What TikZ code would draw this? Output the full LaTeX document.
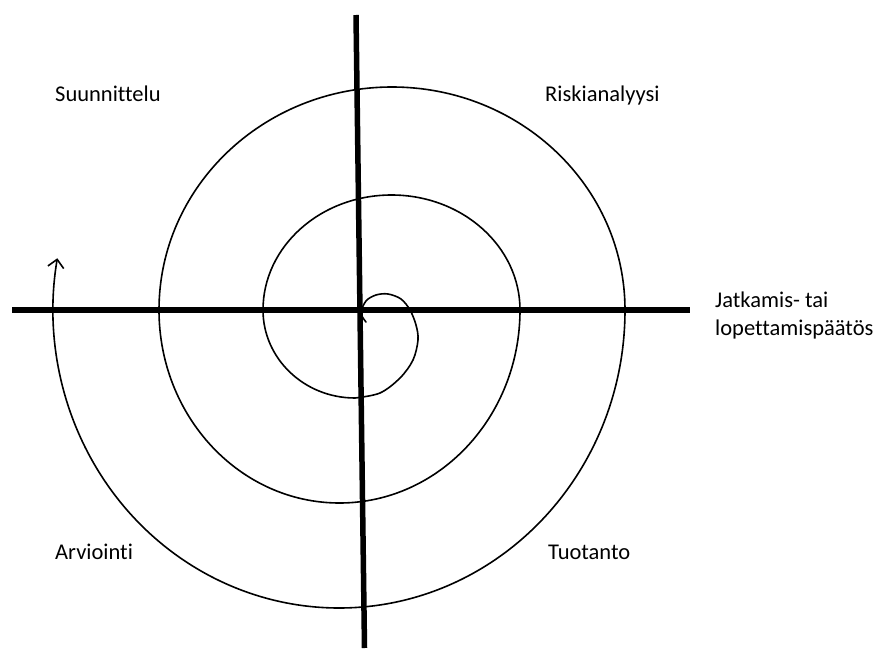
\documentclass[tikz,border=0pt]{standalone}
\usepackage{fontspec}
\setmainfont{Carlito}[Ligatures=NoCommon]
\usetikzlibrary{arrows.meta}
\begin{document}
\begin{tikzpicture}[x=1pt,y=1pt,
  axisline/.style={line width=5.5pt},
  spiralline/.style={line width=1.6pt, line cap=round, line join=round},
  lab/.style={font=\fontsize{22.5}{27}\selectfont, anchor=base west, inner sep=0pt}]
\useasboundingbox (0,0) rectangle (884,-653);
% axes
\coordinate (axtop) at (356,-15);
\coordinate (axbot) at (364.5,-648);
\coordinate (axleft) at (12,-310);
\coordinate (axright) at (690,-310);
\draw[axisline] (axleft) -- (axright);
\draw[axisline] (axtop) -- (axbot);
% spiral
\draw[spiralline, -{Straight Barb[length=8pt,width=16pt]}]
  plot[smooth, tension=0.55] coordinates {(366,-322) (361,-313) (366,-301) (376,-295) (388,-294) (401,-299) (410,-310) (416,-325) (418,-340) (413,-360) (400,-378) (380,-393) (355,-398)}
  arc[start angle=270, end angle=180, x radius=92, y radius=88]
  arc[start angle=180, end angle=0, x radius=128.5, y radius=115]
  arc[start angle=0, end angle=-180, x radius=180.5, y radius=193]
  arc[start angle=180, end angle=0, x radius=233, y radius=223]
  arc[start angle=0, end angle=-190, x radius=286, y radius=298];
% labels
\node[lab] (plan) at (55,-101) {Suunnittelu};
\node[lab] (risk) at (545,-101) {Riskianalyysi};
\node[lab] (dec1) at (715,-307) {Jatkamis- tai};
\node[lab] (dec2) at (715,-335) {lopettamispäätös};
\node[lab] (eval) at (55,-559) {Arviointi};
\node[lab] (prod) at (548,-559) {Tuotanto};
\end{tikzpicture}
\end{document}
